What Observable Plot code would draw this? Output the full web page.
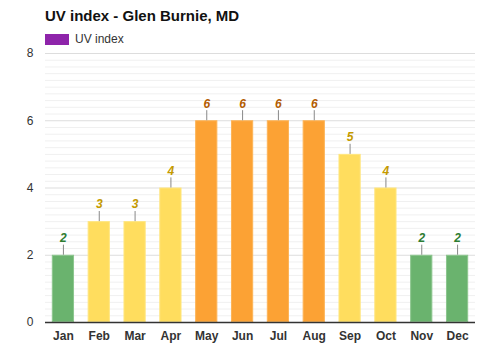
<!DOCTYPE html>
<html><head><meta charset="utf-8">
<script src="https://cdn.jsdelivr.net/npm/d3@7"></script>
<script src="https://cdn.jsdelivr.net/npm/@observablehq/plot@0.6"></script>
<style>
body{margin:0;background:#fff;font-family:"Liberation Sans",Arial,sans-serif;}
#wrap{position:relative;width:500px;height:350px;}
#title{position:absolute;left:45px;top:7px;font-size:15px;font-weight:bold;color:#111;}
#legend{position:absolute;left:45px;top:32px;font-size:12px;color:#333;display:flex;align-items:center;}
#legend span.sw{display:inline-block;width:24px;height:11px;background:#8e24aa;margin-right:6px;}
#chart{position:absolute;left:0;top:0;}
</style></head>
<body>
<div id="wrap">
<div id="chart"></div>
<div id="title">UV index - Glen Burnie, MD</div>
<div id="legend"><span class="sw"></span>UV index</div>
</div>
<script>
const months = ["Jan","Feb","Mar","Apr","May","Jun","Jul","Aug","Sep","Oct","Nov","Dec"];
const uvValues = [2,3,3,4,6,6,6,6,5,4,2,2];
const yTicks = [0,2,4,6,8];

const data = months.map((m,i)=>({month:m, value:uvValues[i]}));
const level = v => v <= 2 ? "low" : v <= 5 ? "mod" : "high";
const fillC = {low:"#6ab36e", mod:"#ffdd5e", high:"#fca234"};
const strokeC = {low:"#8cc68e", mod:"#ffe67f", high:"#fdb457"};
const textC = {low:"#2e7d32", mod:"#c49a00", high:"#b35c00"};
const minor = d3.range(0, 8.001, 0.2).map(v=>+v.toFixed(2)).filter(v=>!yTicks.includes(v));

const chart = Plot.plot({
  width: 500, height: 350,
  marginTop: 53, marginBottom: 28, marginLeft: 45, marginRight: 25,
  style: {fontFamily: '"Liberation Sans", Arial, sans-serif', fontSize: "12px", color: "#333"},
  x: {domain: months, paddingInner: 0.38, paddingOuter: 0.19, round: false, label: null},
  y: {domain: [0, 8], label: null},
  marks: [
    Plot.ruleY(minor, {stroke: "#f0f0f0"}),
    Plot.ruleY(yTicks, {stroke: "#dddddd"}),
    Plot.axisY({ticks: yTicks, tickSize: 0, tickPadding: 12, fontSize: 12, label: null}),
    Plot.axisX({tickSize: 0, tickPadding: 9, fontWeight: "bold", fontSize: 12, label: null}),
    Plot.barY(data, {x: "month", y: "value", fill: d => fillC[level(d.value)], stroke: d => strokeC[level(d.value)], strokeWidth: 1, inset: 0.5}),
    Plot.ruleX(data, {x: "month", y1: "value", y2: d => d.value + 0.3, stroke: "#888"}),
    Plot.text(data, {x: "month", y: "value", text: d => String(d.value), dy: -17, fill: d => textC[level(d.value)], fontWeight: "bold", fontStyle: "italic", fontSize: 12}),
    Plot.ruleY([0], {stroke: "#333", strokeWidth: 1.5})
  ]
});
document.getElementById("chart").appendChild(chart);
</script>
</body></html>
